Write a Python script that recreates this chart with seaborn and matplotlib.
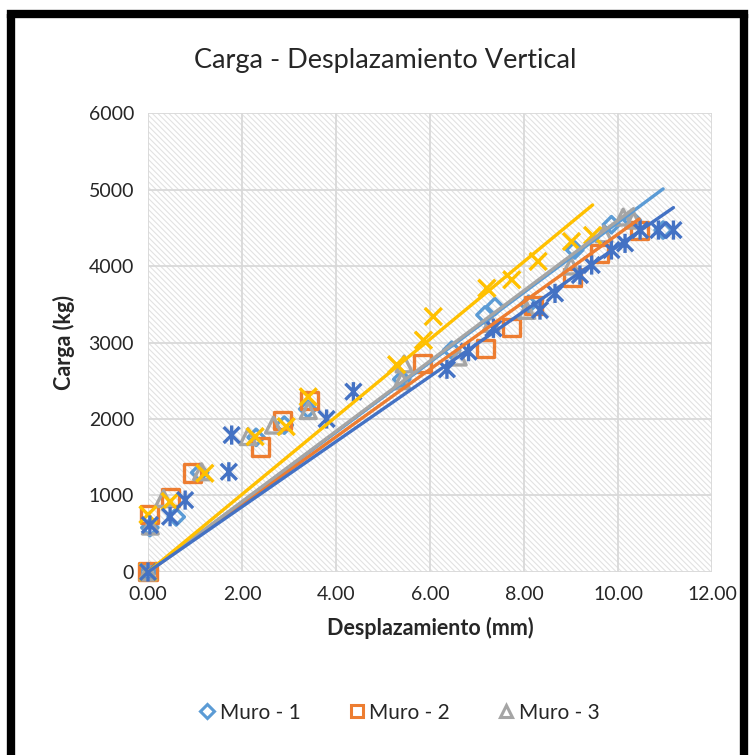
import matplotlib.pyplot as plt
import seaborn as sns
import numpy as np
from matplotlib.path import Path
from matplotlib.lines import Line2D

sns.set_style("white")
plt.rcParams['font.family'] = ['Lato', 'DejaVu Sans']
plt.rcParams['hatch.color'] = '#e2e2e2'
plt.rcParams['hatch.linewidth'] = 0.8

# displacement (mm) / load (kg)
muro1_x = [0, 0.04, 0.60, 1.10, 2.30, 2.90, 3.40, 5.40, 6.46, 7.17, 7.38, 8.10, 9.08, 9.86, 10.30, 10.96]
muro1_y = [0, 580, 720, 1300, 1760, 1920, 2130, 2520, 2900, 3360, 3470, 3500, 4210, 4540, 4600, 4470]

muro2_x = [0, 0.04, 0.47, 0.94, 2.40, 2.87, 3.43, 5.83, 7.19, 7.74, 8.20, 9.04, 9.60, 10.45]
muro2_y = [0, 758, 980, 1294, 1634, 1974, 2248, 2732, 2928, 3190, 3490, 3856, 4170, 4470]

muro3_x = [0, 0.05, 0.33, 1.14, 2.13, 2.67, 3.41, 5.40, 5.45, 6.60, 7.30, 8.06, 9.00, 9.70, 10.11, 10.33]
muro3_y = [0, 600, 960, 1310, 1770, 1920, 2110, 2500, 2720, 2810, 3250, 3420, 4000, 4420, 4640, 4600]

muro4_x = [0, 0.0, 0.47, 1.21, 2.28, 2.94, 3.41, 5.29, 5.86, 6.07, 7.21, 7.74, 8.30, 9.01, 9.46]
muro4_y = [0, 750, 920, 1290, 1770, 1900, 2290, 2710, 3030, 3340, 3710, 3820, 4060, 4320, 4400]

muro5_x = [0, 0.04, 0.47, 0.79, 1.72, 1.78, 3.80, 4.37, 6.36, 6.82, 7.35, 8.34, 8.66, 9.19,
           9.44, 9.86, 10.15, 10.47, 10.86, 11.18]
muro5_y = [0, 614, 723, 940, 1310, 1790, 2000, 2357, 2650, 2880, 3185, 3424, 3642, 3882,
           4013, 4209, 4296, 4470, 4470, 4470]

names = ['Muro - 1', 'Muro - 2', 'Muro - 3', 'Muro - 4', 'Muro - 5']
colors = ['#5B9BD5', '#ED7D31', '#A5A5A5', '#FFC000', '#4472C4']

# excel style asterisk: an x plus a vertical bar
star = Path([(-0.5, -0.5), (0.5, 0.5), (-0.5, 0.5), (0.5, -0.5), (0, -0.6), (0, 0.6)],
            [Path.MOVETO, Path.LINETO, Path.MOVETO, Path.LINETO, Path.MOVETO, Path.LINETO])
markers = ['D', 's', '^', 'x', star]
sizes = [70, 150, 130, 150, 190]

series = [(muro1_x, muro1_y), (muro2_x, muro2_y), (muro3_x, muro3_y),
          (muro4_x, muro4_y), (muro5_x, muro5_y)]

fig = plt.figure(figsize=(7.49, 7.55), dpi=100)
ax = fig.add_axes([0.1976, 0.2424, 0.753, 0.6079])
ax.patch.set_hatch('\\\\\\\\\\\\')
ax.patch.set_edgecolor('#e2e2e2')

for (xs, ys), c, m, s in zip(series, colors, markers, sizes):
    sns.scatterplot(x=xs, y=ys, marker=m, color=c, s=s, ax=ax, zorder=3)
    coll = ax.collections[-1]
    coll.set_facecolor('none')
    coll.set_edgecolor(c)
    coll.set_linewidth(2.4)
    coll.set_clip_on(False)

# linear trend lines through the origin
for (xs, ys), c in zip(series, colors):
    xa, ya = np.array(xs), np.array(ys)
    k = (xa * ya).sum() / (xa ** 2).sum()
    xl = np.array([0, xa.max()])
    sns.lineplot(x=xl, y=k * xl, color=c, linewidth=2.4, ax=ax, zorder=4)

ax.set_xlim(0, 12)
ax.set_ylim(0, 6000)
ax.set_xticks(np.arange(0, 13, 2))
ax.set_xticklabels([f"{v:.2f}" for v in np.arange(0, 13, 2)])
ax.set_yticks(np.arange(0, 6001, 1000))
ax.grid(True, color='#d9d9d9', linewidth=1.3)
ax.set_axisbelow(True)
for sp in ax.spines.values():
    sp.set_visible(False)
ax.tick_params(labelsize=14, length=0, pad=10)
ax.set_xlabel("Desplazamiento (mm)", fontsize=15.5, fontweight='bold', labelpad=10)
ax.set_ylabel("Carga (kg)", fontsize=15.5, fontweight='bold', labelpad=10)

fig.text(0.515, 0.92, "Carga - Desplazamiento Vertical", ha='center', va='center', fontsize=19.5)

handles = [Line2D([], [], linestyle='none', marker=m, markersize=ms, markerfacecolor='none',
                  markeredgecolor=c, markeredgewidth=2.2)
           for m, c, ms in zip(markers[:3], colors[:3], [7, 9, 9])]
fig.legend(handles, names[:3], loc='center', bbox_to_anchor=(0.53, 0.056), ncol=3,
           frameon=False, fontsize=15, handletextpad=0.0, columnspacing=2.1, handlelength=1.2)

# black chart frame
fig.add_artist(Line2D([0.0147, 0.0147], [0, 0.9815], color='black', linewidth=6,
                      transform=fig.transFigure, solid_capstyle='butt'))
fig.add_artist(Line2D([0.0147, 0.9933], [0.9815, 0.9815], color='black', linewidth=6,
                      transform=fig.transFigure, solid_capstyle='projecting'))
fig.add_artist(Line2D([0.9933, 0.9933], [0, 0.9815], color='black', linewidth=6,
                      transform=fig.transFigure, solid_capstyle='butt'))

fig.savefig("out.png", dpi=100)
